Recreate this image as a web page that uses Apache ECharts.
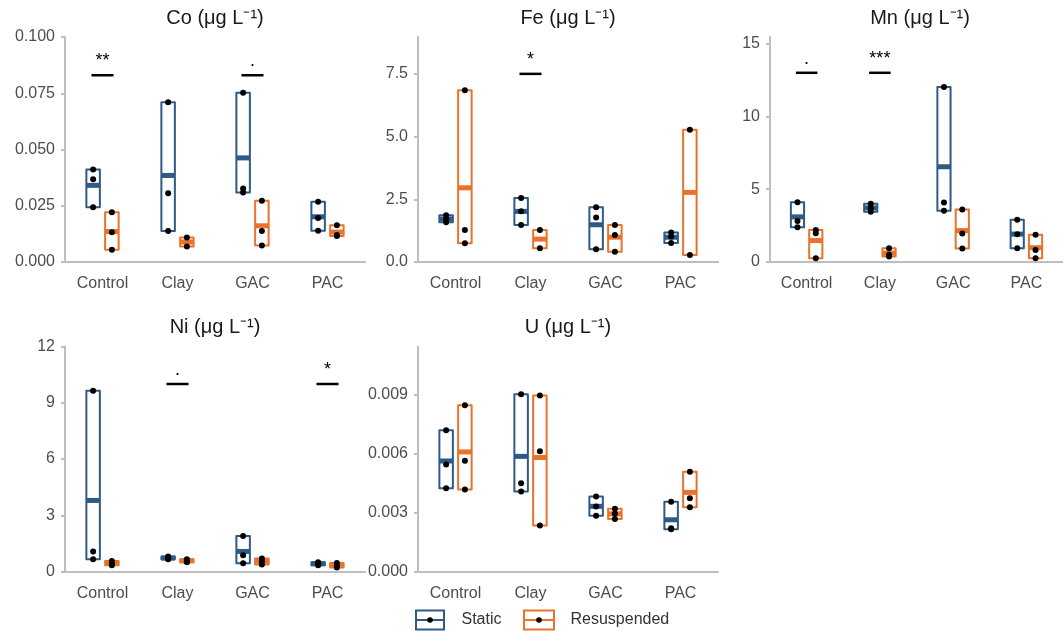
<!DOCTYPE html>
<html>
<head>
<meta charset="utf-8">
<title>Trace metals by treatment</title>
<script src="https://cdn.jsdelivr.net/npm/echarts@6/dist/echarts.min.js"></script>
<style>
  html, body { margin: 0; padding: 0; background: #ffffff; }
  #chart { width: 1063px; height: 635px; }
</style>
</head>
<body>
<div id="chart"></div>
<script>
// Treatments and sampling conditions
const categories = ['Control', 'Clay', 'GAC', 'PAC'];
const groups = ['Static', 'Resuspended'];

// Replicate concentrations (μg L⁻¹), one list per treatment
const coStatic = [[0.0411, 0.0368, 0.0243], [0.0710, 0.0306, 0.0138], [0.0752, 0.0327, 0.0309], [0.0268, 0.0196, 0.0139]];
const coResusp = [[0.0221, 0.0132, 0.0054], [0.0109, 0.0069], [0.0272, 0.0138, 0.0073], [0.0163, 0.0120, 0.0116]];
const feStatic = [[1.86, 1.70, 1.58], [2.55, 2.02, 1.48], [2.18, 1.77, 0.505], [1.18, 1.02, 0.76]];
const feResusp = [[6.85, 1.28, 0.745], [1.28, 0.545], [1.48, 1.08, 0.41], [5.27, 0.28]];
const mnStatic = [[4.10, 2.82, 2.38], [4.00, 3.70, 3.45], [12.02, 4.08, 3.53], [2.91, 1.90, 0.94]];
const mnResusp = [[2.20, 1.97, 0.25], [0.95, 0.50, 0.38], [3.60, 1.95, 0.92], [1.88, 0.82, 0.25]];
const niStatic = [[9.64, 1.07, 0.66], [0.80, 0.70, 0.65], [1.90, 0.87, 0.44], [0.50, 0.42, 0.33]];
const niResusp = [[0.56, 0.45, 0.33], [0.66, 0.55, 0.50], [0.70, 0.55, 0.38], [0.45, 0.30, 0.22]];
const uStatic = [[0.0072, 0.00545, 0.00425], [0.00903, 0.0045, 0.00408], [0.00382, 0.00331, 0.00284], [0.00355, 0.0022, 0.00216]];
const uResusp = [[0.00847, 0.00564, 0.00418], [0.00897, 0.00613, 0.00234], [0.0032, 0.00295, 0.00267], [0.00508, 0.00374, 0.00328]];

// Pairwise significance: [treatment, label, bar height]
const coSignif = [['Control', '**', 0.083], ['GAC', '.', 0.083]];
const feSignif = [['Clay', '*', 7.5]];
const mnSignif = [['Control', '.', 13], ['Clay', '***', 13]];
const niSignif = [['Clay', '.', 10], ['PAC', '*', 10]];
const uSignif = [];

// Y-axis tick values
const coTicks = [0, 0.025, 0.05, 0.075, 0.1];
const feTicks = [0, 2.5, 5, 7.5];
const mnTicks = [0, 5, 10, 15];
const niTicks = [0, 3, 6, 9, 12];
const uTicks = [0, 0.003, 0.006, 0.009];

const FONT = "'Liberation Sans', Arial, sans-serif";
const COLORS = ['#2E5A87', '#E9722C'];
const AXIS_GREY = '#BEBEBE';
const DODGE = [-0.125, 0.125];
const HALF_BOX = 0.09;
const HALF_SIG = 0.147;

const panels = [
  { title: 'Co (μg L⁻¹)', data: [coStatic, coResusp], sig: coSignif, ticks: coTicks, dec: 3, max: 0.1,     left: 65,  top: 37 },
  { title: 'Fe (μg L⁻¹)', data: [feStatic, feResusp], sig: feSignif, ticks: feTicks, dec: 1, max: 8.97,    left: 418, top: 37 },
  { title: 'Mn (μg L⁻¹)', data: [mnStatic, mnResusp], sig: mnSignif, ticks: mnTicks, dec: 0, max: 15.46,   left: 770, top: 37 },
  { title: 'Ni (μg L⁻¹)', data: [niStatic, niResusp], sig: niSignif, ticks: niTicks, dec: 0, max: 12,      left: 65,  top: 346.5 },
  { title: 'U (μg L⁻¹)',  data: [uStatic, uResusp],   sig: uSignif,  ticks: uTicks,  dec: 3, max: 0.01147, left: 418, top: 346.5 }
];
const PW = 300, PH = 225;

const mean = a => a.reduce((s, v) => s + v, 0) / a.length;

const grid = [], xAxis = [], yAxis = [], series = [], graphic = [];

panels.forEach((p, i) => {
  grid.push({ left: p.left, top: p.top, width: PW, height: PH, containLabel: false });
  xAxis.push({
    gridIndex: i, type: 'value', min: -0.5, max: 3.5,
    axisLine: { show: true, onZero: false, lineStyle: { color: AXIS_GREY, width: 2 } },
    axisTick: { show: false },
    splitLine: { show: false },
    axisLabel: {
      customValues: [0, 1, 2, 3],
      formatter: v => categories[Math.round(v)],
      color: '#4D4D4D', fontSize: 16, fontFamily: FONT, margin: 14
    }
  });
  yAxis.push({
    gridIndex: i, type: 'value', min: 0, max: p.max,
    axisLine: { show: true, onZero: false, lineStyle: { color: AXIS_GREY, width: 2 } },
    axisTick: { show: true, length: 4, customValues: p.ticks, lineStyle: { color: AXIS_GREY, width: 2 } },
    splitLine: { show: false },
    axisLabel: {
      customValues: p.ticks,
      formatter: v => Number(v).toFixed(p.dec),
      color: '#4D4D4D', fontSize: 16, fontFamily: FONT, margin: 10
    }
  });

  // Range boxes (min–max) with the group mean as a heavy bar
  p.data.forEach((reps, g) => {
    series.push({
      type: 'custom', name: groups[g], xAxisIndex: i, yAxisIndex: i, z: 2,
      silent: true,
      data: reps.map((r, k) => [k + DODGE[g], Math.min(...r), mean(r), Math.max(...r)]),
      renderItem: (params, api) => {
        const x = api.value(0);
        const a = api.coord([x - HALF_BOX, api.value(1)]);
        const b = api.coord([x + HALF_BOX, api.value(3)]);
        const m = api.coord([x, api.value(2)]);
        return {
          type: 'group',
          children: [
            { type: 'rect', shape: { x: a[0], y: b[1], width: b[0] - a[0], height: a[1] - b[1] },
              style: { fill: 'none', stroke: COLORS[g], lineWidth: 2, lineJoin: 'round' } },
            { type: 'line', shape: { x1: a[0], y1: m[1], x2: b[0], y2: m[1] },
              style: { stroke: COLORS[g], lineWidth: 5 } }
          ]
        };
      }
    });
    series.push({
      type: 'scatter', name: groups[g] + ' replicates', xAxisIndex: i, yAxisIndex: i, z: 3,
      silent: true, symbol: 'circle', symbolSize: 6,
      itemStyle: { color: '#000000', opacity: 1 },
      data: reps.flatMap((r, k) => r.map(v => [k + DODGE[g], v]))
    });
  });

  // Significance brackets
  if (p.sig.length) {
    series.push({
      type: 'custom', name: 'significance', xAxisIndex: i, yAxisIndex: i, z: 4,
      silent: true,
      data: p.sig.map(s => [categories.indexOf(s[0]), s[2]]),
      renderItem: (params, api) => {
        const x = api.value(0);
        const a = api.coord([x - HALF_SIG, api.value(1)]);
        const b = api.coord([x + HALF_SIG, api.value(1)]);
        return {
          type: 'group',
          children: [
            { type: 'line', shape: { x1: a[0], y1: a[1], x2: b[0], y2: b[1] },
              style: { stroke: '#000000', lineWidth: 2.5 } },
            { type: 'text', x: (a[0] + b[0]) / 2, y: a[1] - 5,
              style: { text: p.sig[params.dataIndex][1], align: 'center', verticalAlign: 'bottom',
                       fontSize: 18, fontFamily: FONT, fill: '#000000' } }
          ]
        };
      }
    });
  }

  graphic.push({
    type: 'text', x: p.left + PW / 2, y: p.top - 19,
    style: { text: p.title, align: 'center', verticalAlign: 'middle', fontSize: 20, fontFamily: FONT, fill: '#1A1A1A' }
  });
});

// Legend keys: small range box with a point
const legendItems = [
  { x: 416, w: 28, textX: 461.5 },
  { x: 524, w: 30, textX: 570.5 }
];
legendItems.forEach((it, g) => {
  const cy = 620, h = 19;
  graphic.push({ type: 'rect', shape: { x: it.x, y: cy - h / 2, width: it.w, height: h },
                 style: { fill: '#ffffff', stroke: COLORS[g], lineWidth: 2 } });
  graphic.push({ type: 'line', shape: { x1: it.x, y1: cy, x2: it.x + it.w, y2: cy },
                 style: { stroke: COLORS[g], lineWidth: 2 } });
  graphic.push({ type: 'circle', shape: { cx: it.x + it.w / 2, cy: cy, r: 2.8 },
                 style: { fill: '#000000' } });
  graphic.push({ type: 'text', x: it.textX, y: cy,
                 style: { text: groups[g], align: 'left', verticalAlign: 'middle', fontSize: 16, fontFamily: FONT, fill: '#333333' } });
});

const chart = echarts.init(document.getElementById('chart'), null, { renderer: 'canvas' });
chart.setOption({
  animation: false,
  backgroundColor: '#ffffff',
  grid, xAxis, yAxis, series, graphic
});
</script>
</body>
</html>
